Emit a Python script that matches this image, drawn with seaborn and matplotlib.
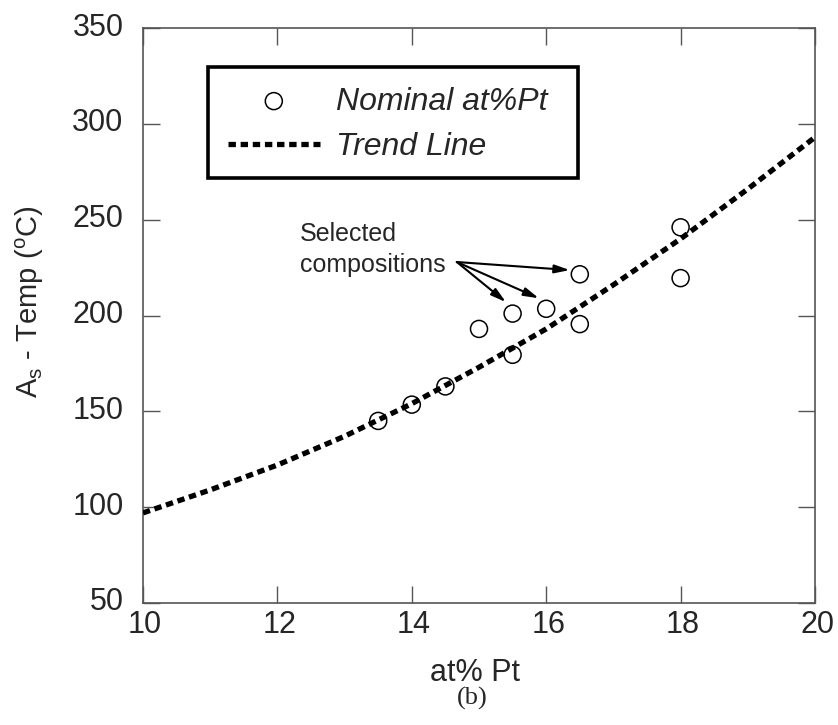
import matplotlib
matplotlib.use("Agg")
import matplotlib.pyplot as plt
import matplotlib.transforms as mtrans
from matplotlib.patches import Rectangle
import seaborn as sns
import pandas as pd

# Measured A_s temperatures versus nominal Pt content
at_pct_pt = [13.5, 14.0, 14.5, 15.0, 15.5, 15.5, 16.0, 16.5, 16.5, 18.0, 18.0]
as_temp = [145, 153.5, 163, 193, 201, 179.5, 203.5, 221.5, 195.5, 246, 219.5]

# Trend line sampled at whole at% Pt
trend_x = [10, 11, 12, 13, 14, 15, 16, 17, 18, 19, 20]
trend_y = [97, 109, 122, 137, 154, 173, 193, 216, 240, 266, 293]

x_ticks = [10, 12, 14, 16, 18, 20]
y_ticks = [50, 100, 150, 200, 250, 300, 350]

sns.set_style("ticks")
plt.rcParams["font.family"] = ["Liberation Sans", "DejaVu Sans"]

W, H = 838, 725
fig = plt.figure(figsize=(W / 100, H / 100), dpi=100)
ax = fig.add_axes([143 / W, 1 - 603 / H, 672 / W, 575 / H])

pts = pd.DataFrame({"x": at_pct_pt, "y": as_temp})
trend = pd.DataFrame({"x": trend_x, "y": trend_y})

sns.lineplot(data=trend, x="x", y="y", ax=ax, color="black", lw=3.8,
             linestyle=(0, (1.4, 0.9)), label="Trend Line", zorder=3)
ax.get_lines()[-1].set_dash_capstyle("butt")
sns.scatterplot(data=pts, x="x", y="y", ax=ax, s=150, marker="o",
                facecolor="none", edgecolor="black", linewidth=1.1,
                label="Nominal at%Pt", zorder=4)

ax.set_xlim(10, 20)
ax.set_ylim(50, 350)
ax.set_xticks(x_ticks)
ax.set_yticks(y_ticks)
ax.tick_params(direction="in", length=12, width=1.0, color="#555555",
               top=True, right=True, labelsize=22)
ax.tick_params(axis="y", pad=14)
ax.tick_params(axis="x", pad=5)
for s in ax.spines.values():
    s.set_color("#555555")
    s.set_linewidth(1.2)

# small nudges of the tick labels
dy = mtrans.ScaledTranslation(0, 4 / 100, fig.dpi_scale_trans)
for lab in ax.get_yticklabels():
    lab.set_transform(lab.get_transform() + dy)
dx = mtrans.ScaledTranslation(2 / 100, 0, fig.dpi_scale_trans)
for lab in ax.get_xticklabels():
    lab.set_transform(lab.get_transform() + dx)

ax.set_xlabel("at% Pt", fontsize=22)
ax.xaxis.set_label_coords((475 - 143) / 672, (603 - 658) / 575)
ax.set_ylabel(r"A$_\mathregular{s}$ - Temp ($^\mathregular{o}$C)", fontsize=21,
              va="center")
ax.yaxis.set_label_coords((30 - 143) / 672, (603 - 302) / 575)

# Annotation for the selected compositions
ax.text(300 / W, 1 - 272 / H, "Selected\ncompositions", transform=fig.transFigure,
        fontsize=18, ha="left", va="baseline", linespacing=1.36)
tail = (14.67, 227.9)
for tip in [(16.35, 223.7), (15.40, 207), (15.89, 209)]:
    ax.annotate("", xy=tip, xytext=tail,
                arrowprops=dict(arrowstyle="-|>,head_length=0.9,head_width=0.25",
                                color="black", lw=1.5, shrinkA=0, shrinkB=0))

# Legend: marker entry first, then the trend line
handles, labels = ax.get_legend_handles_labels()
order = [labels.index("Nominal at%Pt"), labels.index("Trend Line")]
leg = ax.legend([handles[i] for i in order], [labels[i] for i in order],
                loc="upper left", bbox_to_anchor=(207.7 / W, 1 - 66.7 / H),
                bbox_transform=fig.transFigure, frameon=False,
                prop={"style": "italic", "size": 23},
                handlelength=2.9, handletextpad=0.5, borderpad=0.62,
                labelspacing=0.5, borderaxespad=0)
fig.add_artist(Rectangle((207.7 / W, 1 - 178 / H), (578 - 207.7) / W, (178 - 66.7) / H,
                         transform=fig.transFigure, fill=False, edgecolor="black",
                         lw=2.6, zorder=5))

fig.text(472 / W, 1 - 698 / H, "(b)", fontsize=19, ha="center", va="center",
         family=["Liberation Serif", "DejaVu Serif"])

fig.savefig("out.png", dpi=100)
